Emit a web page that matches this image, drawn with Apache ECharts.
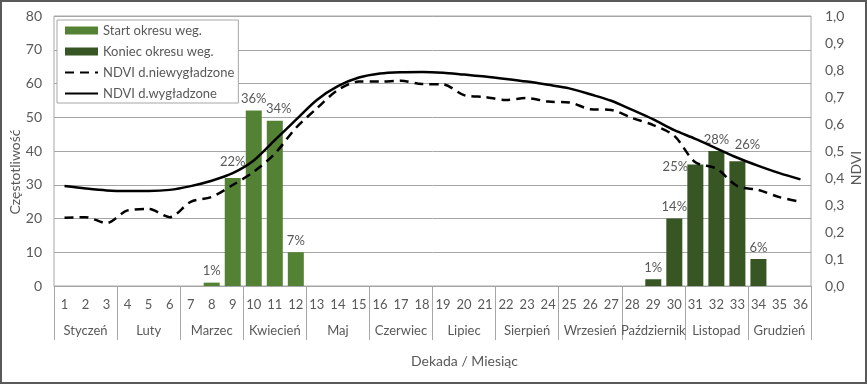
<!DOCTYPE html>
<html>
<head>
<meta charset="utf-8">
<script src="https://cdn.jsdelivr.net/npm/echarts@6/dist/echarts.min.js"></script>
<style>
html,body{margin:0;padding:0;background:#fff;}
#wrap{width:863px;height:380px;border:2px solid #595959;position:relative;}
#chart{width:863px;height:380px;}
</style>
</head>
<body>
<div id="wrap"><div id="chart"></div></div>
<script>
var decades = ['1','2','3','4','5','6','7','8','9','10','11','12','13','14','15','16','17','18',
  '19','20','21','22','23','24','25','26','27','28','29','30','31','32','33','34','35','36'];
var months = ['Styczeń','Luty','Marzec','Kwiecień','Maj','Czerwiec','Lipiec','Sierpień','Wrzesień','Październik','Listopad','Grudzień'];
var yLeftTicks = [0,10,20,30,40,50,60,70,80];
var startValues = [null,null,null,null,null,null,null,1,32,52,49,10,null,null,null,null,null,null,
  null,null,null,null,null,null,null,null,null,null,null,null,null,null,null,null,null,null];
var startPct = ['','','','','','','','1%','22%','36%','34%','7%','','','','','','',
  '','','','','','','','','','','','','','','','','',''];
var endValues = [null,null,null,null,null,null,null,null,null,null,null,null,null,null,null,null,null,null,
  null,null,null,null,null,null,null,null,null,null,2,20,36,40,37,8,null,null];
var endPct = ['','','','','','','','','','','','','','','','','','',
  '','','','','','','','','','','1%','14%','25%','28%','26%','6%','',''];
var ndviRaw = [0.253,0.255,0.233,0.280,0.285,0.255,0.312,0.330,0.374,0.423,0.490,0.585,0.658,0.726,0.757,0.757,0.760,0.748,
  0.747,0.707,0.700,0.689,0.696,0.683,0.680,0.655,0.652,0.622,0.596,0.556,0.458,0.435,0.370,0.356,0.329,0.312];
var ndviSmooth = [0.370,0.361,0.354,0.352,0.352,0.356,0.370,0.390,0.418,0.465,0.540,0.615,0.689,0.740,0.772,0.787,0.792,0.793,
  0.790,0.783,0.776,0.767,0.757,0.745,0.732,0.710,0.686,0.652,0.617,0.577,0.545,0.510,0.475,0.445,0.418,0.395];

var FONT = 'Lato';
var TXT = '#595959';
var GRID = '#a6a6a6';

// manual label nudges (Excel labels moved by hand)
var labelNudge = {8: [0,-5], 30: [-20,14], 32: [10,-5], 10: [4,0]};

function barData(vals, pcts) {
  return vals.map(function (v, i) {
    if (v === null) return null;
    var item = {value: v, label: {formatter: pcts[i]}};
    if (labelNudge[i]) item.label.offset = labelNudge[i];
    return item;
  });
}

var chart = echarts.init(document.getElementById('chart'));
var option = {
  animation: false,
  textStyle: {fontFamily: FONT},
  grid: {left: 52, right: 54, top: 14, bottom: 96, show: true, borderColor: GRID, borderWidth: 1, containLabel: false},
  legend: {
    orient: 'vertical', left: 55, top: 18,
    backgroundColor: '#fff', borderColor: GRID, borderWidth: 1,
    padding: [4, 4, 3, 7],
    itemWidth: 33, itemHeight: 8, itemGap: 8,
    textStyle: {fontFamily: FONT, fontSize: 13, color: TXT},
    data: [
      {name: 'Start okresu weg.', icon: 'rect'},
      {name: 'Koniec okresu weg.', icon: 'rect'},
      {name: 'NDVI d.niewygładzone', itemStyle: {opacity: 0}},
      {name: 'NDVI d.wygładzone', itemStyle: {opacity: 0}}
    ]
  },
  title: {
    text: 'Dekada / Miesiąc', left: 404, top: 347,
    textStyle: {fontFamily: FONT, fontSize: 14, fontWeight: 'normal', color: TXT}
  },
  graphic: [
    {type: 'text', x: 13, y: 170, rotation: Math.PI / 2,
     style: {text: 'Częstotliwość', font: '14px ' + FONT, fill: TXT, align: 'center', verticalAlign: 'middle'}},
    {type: 'text', x: 854, y: 166, rotation: Math.PI / 2,
     style: {text: 'NDVI', font: '14px ' + FONT, fill: TXT, align: 'center', verticalAlign: 'middle'}}
  ],
  xAxis: [
    {
      type: 'category', data: decades, position: 'bottom',
      axisLine: {show: true, lineStyle: {color: GRID, width: 1}},
      axisTick: {show: false},
      axisLabel: {interval: 0, margin: 12, fontSize: 13, color: TXT, fontFamily: FONT},
      splitLine: {show: false}
    },
    {
      type: 'category', data: months, position: 'bottom',
      axisLine: {show: false},
      axisTick: {show: true, length: 54, interval: 0, lineStyle: {color: GRID, width: 1}},
      axisLabel: {interval: 0, margin: 38, fontSize: 13, color: TXT, fontFamily: FONT},
      splitLine: {show: false}
    }
  ],
  yAxis: [
    {
      type: 'value', min: yLeftTicks[0], max: yLeftTicks[yLeftTicks.length - 1], interval: 10,
      axisLine: {show: false}, axisTick: {show: false},
      axisLabel: {margin: 12, fontSize: 14, color: TXT, fontFamily: FONT},
      splitLine: {show: true, lineStyle: {color: GRID, width: 1}}
    },
    {
      type: 'value', min: 0, max: 1, interval: 0.1, position: 'right',
      axisLine: {show: false}, axisTick: {show: false},
      axisLabel: {margin: 14, fontSize: 14, color: TXT, fontFamily: FONT,
        formatter: function (v) { return v.toFixed(1).replace('.', ','); }},
      splitLine: {show: false}
    }
  ],
  series: [
    {
      name: 'Start okresu weg.', type: 'bar', xAxisIndex: 0, yAxisIndex: 0,
      data: barData(startValues, startPct), barWidth: 16, barGap: '-100%',
      itemStyle: {color: '#548235'},
      label: {show: true, position: 'top', distance: 5, fontSize: 13, color: TXT, fontFamily: FONT}
    },
    {
      name: 'Koniec okresu weg.', type: 'bar', xAxisIndex: 0, yAxisIndex: 0,
      data: barData(endValues, endPct), barWidth: 16, barGap: '-100%',
      itemStyle: {color: '#375623'},
      label: {show: true, position: 'top', distance: 5, fontSize: 13, color: TXT, fontFamily: FONT}
    },
    {
      name: 'NDVI d.niewygładzone', type: 'line', xAxisIndex: 0, yAxisIndex: 1,
      data: ndviRaw, smooth: 0.3, symbol: 'none',
      lineStyle: {color: '#000', width: 2.5, type: [9, 6]},
      itemStyle: {color: '#000'}
    },
    {
      name: 'NDVI d.wygładzone', type: 'line', xAxisIndex: 0, yAxisIndex: 1,
      data: ndviSmooth, smooth: 0.3, symbol: 'none',
      lineStyle: {color: '#000', width: 2.5},
      itemStyle: {color: '#000'}
    }
  ]
};
chart.setOption(option);
</script>
</body>
</html>
